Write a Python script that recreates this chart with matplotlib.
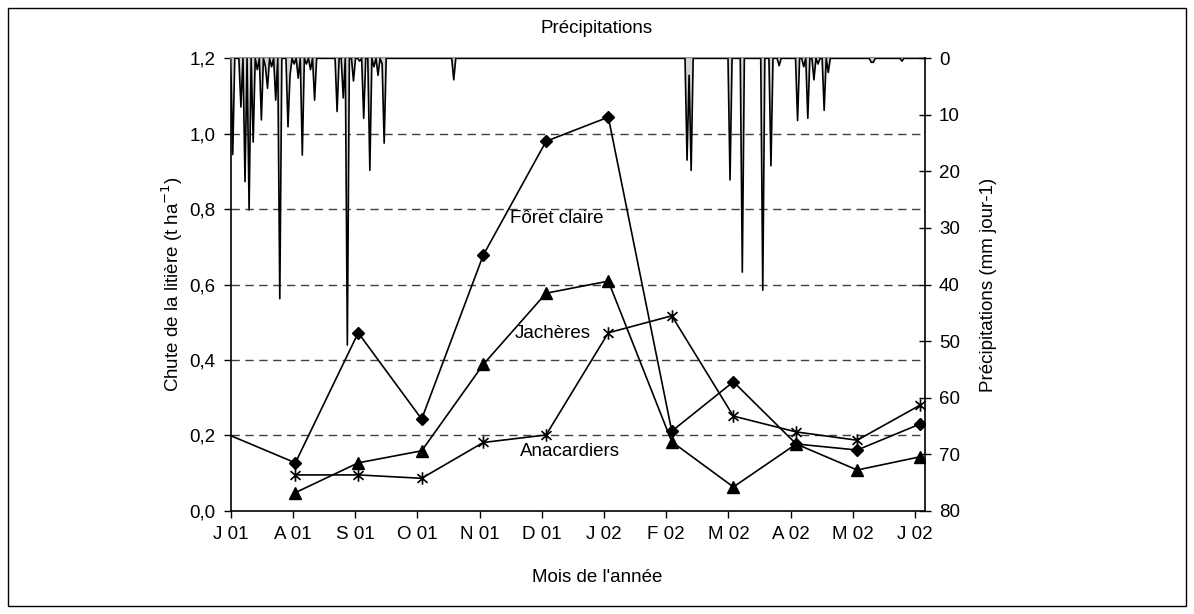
import numpy as np
import matplotlib.pyplot as plt
from matplotlib.path import Path
from matplotlib.patches import Rectangle

plt.rcParams['font.family'] = ['Liberation Sans', 'DejaVu Sans']

# month labels (category axis, one unit per month)
months = ["J 01", "A 01", "S 01", "O 01", "N 01", "D 01",
          "J 02", "F 02", "M 02", "A 02", "M 02", "J 02"]

# litter collection dates, in month units from 1 July 2001
foret_x = [-0.3, 1.04, 2.05, 3.07, 4.06, 5.07, 6.07, 7.09, 8.08, 9.09, 10.07, 11.08]
foret = [0.22, 0.127, 0.472, 0.243, 0.678, 0.980, 1.044, 0.211, 0.342, 0.177, 0.161, 0.230]

sample_x = [1.04, 2.05, 3.07, 4.06, 5.07, 6.07, 7.09, 8.08, 9.09, 10.07, 11.08]
jacheres = [0.048, 0.127, 0.159, 0.388, 0.577, 0.609, 0.183, 0.063, 0.177, 0.108, 0.143]
anacardiers = [0.095, 0.095, 0.086, 0.181, 0.201, 0.472, 0.517, 0.251, 0.209, 0.187, 0.280]

# daily rain events (month units) and amounts (mm/day)
rain_x = [0.02, 0.15, 0.24, 0.29, 0.37, 0.44, 0.49, 0.55, 0.60, 0.65, 0.71,
          0.79, 0.91, 0.97, 1.02, 1.08, 1.16, 1.21, 1.27, 1.34,
          1.72, 1.81, 1.88, 1.97, 2.08, 2.15, 2.23, 2.30, 2.37, 2.42, 2.46,
          3.57,
          7.33, 7.37, 7.41, 8.01, 8.24, 8.54, 8.70, 8.83,
          9.10, 9.20, 9.28, 9.36, 9.43, 9.55, 9.60,
          10.28, 10.33, 10.79]
rain_mm = [17.0, 8.6, 21.8, 26.8, 14.8, 2.0, 10.9, 1.5, 5.3, 1.5, 7.4,
           42.5, 12.1, 3.0, 1.0, 3.5, 17.1, 1.0, 2.0, 7.4,
           9.4, 7.0, 50.7, 4.0, 0.5, 10.6, 19.8, 1.5, 3.0, 1.0, 15.0,
           3.8,
           18.0, 3.0, 19.8, 21.5, 37.8, 41.0, 19.0, 1.3,
           11.0, 1.5, 10.6, 3.8, 1.0, 9.2, 2.5,
           0.7, 0.7, 0.5]

days_per_month = 30.4
day_x = np.arange(0, 11.2 * days_per_month) / days_per_month
rain = np.zeros_like(day_x)
for x, mm in zip(rain_x, rain_mm):
    rain[int(round(x * days_per_month))] = mm

fs = 13.5

fig = plt.figure(figsize=(11.94, 6.14), dpi=100)
ax = fig.add_axes([0.1932, 0.1682, 0.5815, 0.7368])

# gridlines
for v in [0.2, 0.4, 0.6, 0.8, 1.0]:
    ax.axhline(v, color="#404040", lw=1, ls=(0, (6, 4)), zorder=1)

star = Path([(0, -1), (0, 1), (-0.8, -0.7), (0.8, 0.7), (-0.8, 0.7), (0.8, -0.7)],
            [Path.MOVETO, Path.LINETO] * 3)

ax.plot(foret_x, foret, color="black", lw=1.2, marker="D", ms=6.5, zorder=3)
ax.plot(sample_x, jacheres, color="black", lw=1.2, marker="^", ms=8.5, zorder=3)
ax.plot(sample_x, anacardiers, color="black", lw=1.2, marker=star, ms=9,
        mew=1.2, mfc="none", zorder=3)

ax.text(5.24, 0.776, "Fôret claire", fontsize=fs, ha="center", va="center")
ax.text(5.18, 0.469, "Jachères", fontsize=fs, ha="center", va="center")
ax.text(5.45, 0.156, "Anacardiers", fontsize=fs, ha="center", va="center")

ax.set_xlim(0, 11.16)
ax.set_ylim(0, 1.2)
ax.set_xticks(range(len(months)))
ax.set_xticklabels(months, fontsize=fs)
yt = [0.0, 0.2, 0.4, 0.6, 0.8, 1.0, 1.2]
ax.set_yticks(yt)
ax.set_yticklabels([f"{v:.1f}".replace(".", ",") for v in yt], fontsize=fs)
ax.tick_params(axis="both", direction="out", length=5, width=1, color="black", pad=6)
for s in ["left", "bottom"]:
    ax.spines[s].set_linewidth(1.2)
ax.spines["top"].set_color("#909090")
ax.spines["top"].set_linewidth(1.5)
ax.spines["right"].set_visible(False)

# rainfall on an inverted secondary axis
ax2 = ax.twinx()
ax2.fill_between(day_x, 0, rain, facecolor="#d4d4d4", edgecolor="none")
ax2.plot(day_x, rain, color="black", lw=1.2)
ax2.set_ylim(80, 0)
ax2.set_xlim(0, 11.16)
ax2.set_yticks(range(0, 81, 10))
ax2.set_yticklabels([str(v) for v in range(0, 81, 10)], fontsize=fs)
ax2.tick_params(axis="y", direction="inout", length=8, width=1, pad=6)
ax2.spines["right"].set_linewidth(1.2)
ax2.spines["top"].set_visible(False)
ax2.spines["left"].set_visible(False)
ax2.spines["bottom"].set_visible(False)

fig.text(0.144, 0.5366, "Chute de la litière (t ha$^{-1}$)", rotation=90,
         ha="center", va="center", fontsize=fs)
fig.text(0.8275, 0.5366, "Précipitations (mm jour-1)", rotation=90,
         ha="center", va="center", fontsize=fs)
fig.text(0.5, 0.06, "Mois de l'année", ha="center", va="center", fontsize=fs)
fig.text(0.5, 0.954, "Précipitations", ha="center", va="center", fontsize=fs)

fig.patches.append(Rectangle((8 / 1194, 8 / 614), 1178 / 1194, 598 / 614,
                             transform=fig.transFigure, fill=False,
                             edgecolor="black", lw=1))

fig.savefig("out.png", dpi=100)
